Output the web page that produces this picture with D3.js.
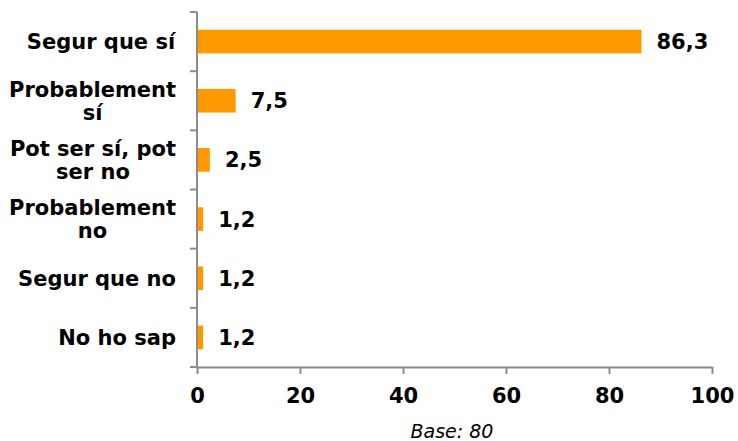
<!DOCTYPE html>
<html>
<head>
<meta charset="utf-8">
<script src="https://cdn.jsdelivr.net/npm/d3@7/dist/d3.min.js"></script>
<style>
  html, body { margin: 0; padding: 0; background: #fff; }
  svg { display: block; font-family: "DejaVu Sans", Verdana, sans-serif; }
</style>
</head>
<body>
<svg id="chart" width="738" height="441"></svg>
<script>
// Survey answers and their percentages
const categories = [
  ["Segur que sí"],
  ["Probablement", "sí"],
  ["Pot ser sí, pot", "ser no"],
  ["Probablement", "no"],
  ["Segur que no"],
  ["No ho sap"]
];
const values = [86.3, 7.5, 2.5, 1.2, 1.2, 1.2];
const tickValues = [0, 20, 40, 60, 80, 100];
const footnote = "Base: 80";

const svg = d3.select("#chart");
const margin = { left: 197, right: 26, top: 12, bottom: 74 };
const W = 738, H = 441;

const x = d3.scaleLinear().domain([0, 100]).range([margin.left, W - margin.right]);
const y = d3.scaleBand()
  .domain(d3.range(categories.length))
  .range([margin.top, H - margin.bottom])
  .paddingInner(0.6)
  .paddingOuter(0.3);

const axisColor = "#8c8c8c";
const barColor = "#ff9900";

// Bars
svg.append("g").selectAll("rect")
  .data(values)
  .join("rect")
  .attr("x", x(0))
  .attr("y", (d, i) => y(i))
  .attr("width", d => x(d) - x(0))
  .attr("height", y.bandwidth())
  .attr("fill", barColor);

// Value labels
svg.append("g").selectAll("text")
  .data(values)
  .join("text")
  .attr("x", d => x(d) + 15)
  .attr("y", (d, i) => y(i) + y.bandwidth() / 2)
  .attr("dy", "0.36em")
  .attr("font-size", 21)
  .attr("font-weight", "bold")
  .attr("fill", "#000")
  .text(d => d.toFixed(1).replace(".", ","));

// Y axis (category axis) with ticks between bands
const yTop = margin.top, yBottom = H - margin.bottom;
const step = (yBottom - yTop) / categories.length;
const gy = svg.append("g");
gy.append("line")
  .attr("x1", x(0)).attr("x2", x(0))
  .attr("y1", yTop).attr("y2", yBottom)
  .attr("stroke", axisColor).attr("stroke-width", 2);
gy.selectAll("line.tick")
  .data(d3.range(categories.length + 1))
  .join("line")
  .attr("class", "tick")
  .attr("x1", x(0) - 7).attr("x2", x(0))
  .attr("y1", i => yTop + i * step).attr("y2", i => yTop + i * step)
  .attr("stroke", axisColor).attr("stroke-width", 2);

// Category labels, possibly on two lines
const lineH = 23;
gy.selectAll("text.cat")
  .data(categories)
  .join("text")
  .attr("class", "cat")
  .attr("text-anchor", "middle")
  .attr("font-size", 21)
  .attr("font-weight", "bold")
  .attr("fill", "#000")
  .each(function (lines, i) {
    const cy = y(i) + y.bandwidth() / 2;
    const t = d3.select(this);
    lines.forEach((ln, k) => {
      t.append("tspan")
        .attr("x", 0)
        .attr("y", cy + (k - (lines.length - 1) / 2) * lineH)
        .attr("dy", "0.36em")
        .text(ln);
    });
  })
  .each(function () {
    // right-align the block against the axis, centring each line within it
    const bb = this.getBBox();
    const shift = (x(0) - 21) - bb.width / 2;
    d3.select(this).selectAll("tspan").attr("x", shift);
  });

// X axis
const gx = svg.append("g")
  .attr("transform", `translate(0,${yBottom})`)
  .call(d3.axisBottom(x).tickValues(tickValues).tickSize(7).tickSizeOuter(0).tickPadding(14));
gx.select(".domain").attr("stroke", axisColor).attr("stroke-width", 2);
gx.selectAll(".tick line").attr("stroke", axisColor).attr("stroke-width", 2);
gx.selectAll(".tick text")
  .attr("font-size", 21)
  .attr("font-weight", "bold")
  .attr("font-family", "'DejaVu Sans', Verdana, sans-serif")
  .attr("fill", "#000");

// Footnote
svg.append("text")
  .attr("x", 452)
  .attr("y", 438)
  .attr("text-anchor", "middle")
  .attr("font-size", 19)
  .attr("font-style", "italic")
  .attr("fill", "#000")
  .text(footnote);
</script>
</body>
</html>
